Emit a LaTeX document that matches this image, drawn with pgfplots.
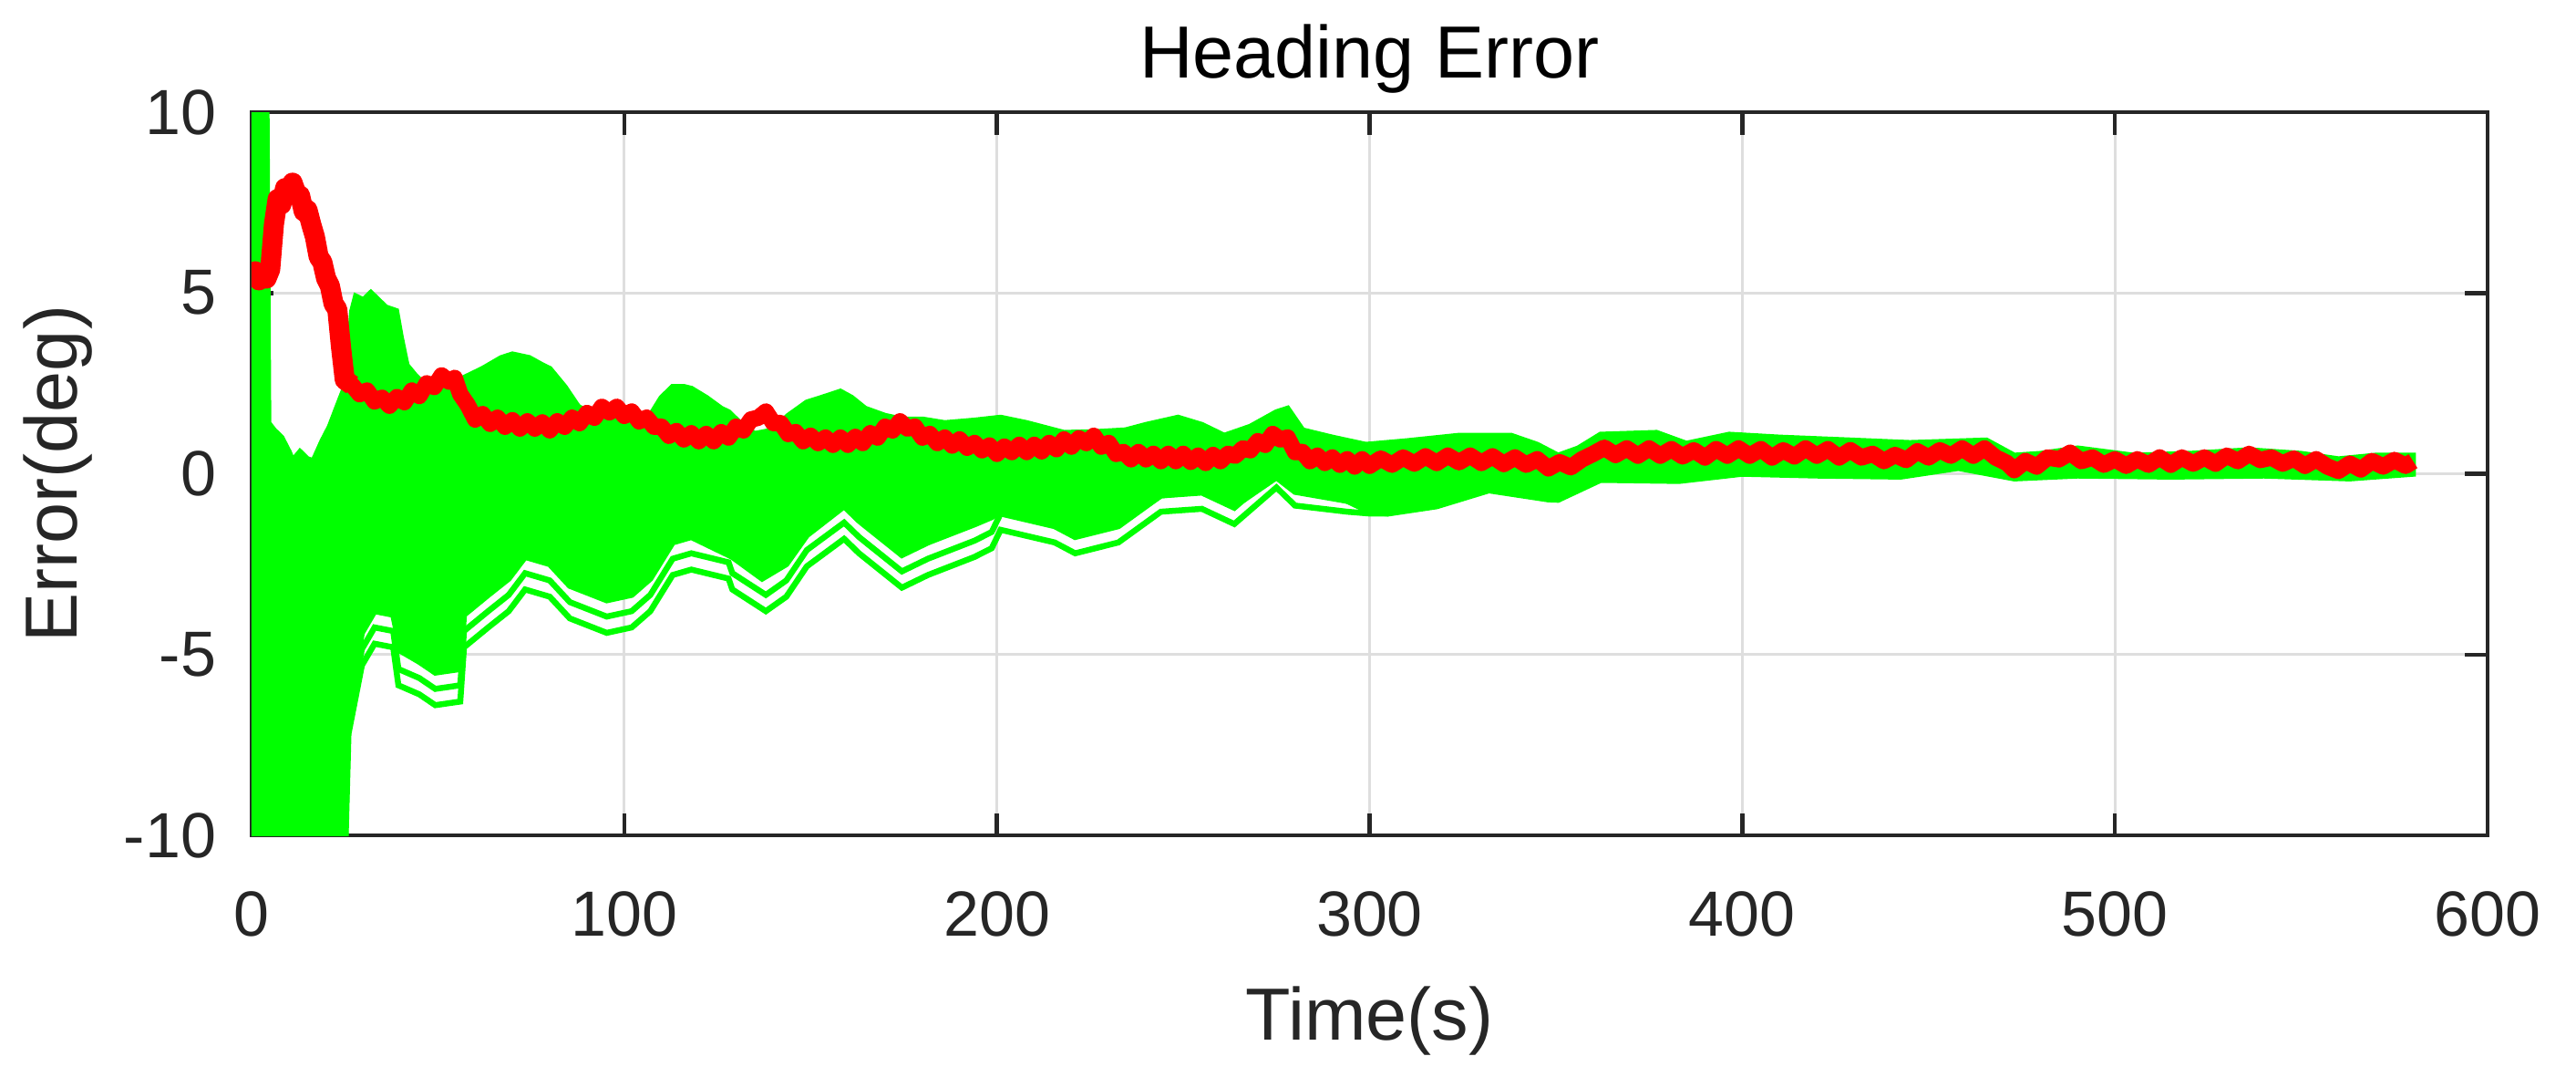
\documentclass[border=0pt]{standalone}
\usepackage{pgfplots}
\pgfplotsset{compat=1.18}
\usepackage{fontspec}
\setmainfont{Liberation Sans}
\definecolor{mgreen}{rgb}{0,1,0}
\definecolor{mred}{rgb}{1,0,0}
\definecolor{axgray}{gray}{0.15}
\definecolor{gridgray}{gray}{0.87}
\begin{document}
\begin{tikzpicture}
\path[use as bounding box] (-55.2pt,-52.8pt) rectangle (510pt,183.2pt);
\begin{axis}[
  at={(0pt,0pt)}, anchor=south west,
  scale only axis, width=490.6pt, height=158.6pt,
  xmin=0, xmax=600, ymin=-10, ymax=10,
  xtick={0,100,200,300,400,500,600},
  xticklabels={0,100,200,300,400,500,600},
  ytick={-10,-5,0,5,10},
  yticklabels={-10,-5,0,5,10},
  xtick pos=both, ytick pos=both,
  xticklabel pos=lower, yticklabel pos=left,
  tick align=inside, major tick length=4.9pt,
  grid=major,
  major grid style={gridgray, line width=0.6pt},
  axis line style={axgray, line width=0.9pt},
  tick style={axgray, line width=0.9pt},
  xticklabel style={font=\fontsize{14}{17}\selectfont, text=axgray, anchor=base, inner sep=0pt, yshift=-22.1pt},
  yticklabel style={font=\fontsize{14}{17}\selectfont, text=axgray, anchor=east, inner sep=0pt, xshift=-7.6pt},
  every axis title shift=0pt,
  title={Heading Error},
  title style={at={(axis description cs:0.5,1.04666)}, anchor=base, inner sep=0pt, font=\fontsize{16.2}{19}\selectfont},
  xlabel={Time(s)},
  xlabel style={at={(axis description cs:0.5,-0.28247)}, anchor=base, inner sep=0pt, font=\fontsize{16.2}{19}\selectfont, text=axgray},
  ylabel={Error(deg)},
  ylabel style={at={(axis description cs:-0.07786,0.5)}, anchor=base, inner sep=0pt, font=\fontsize{16.2}{19}\selectfont, text=axgray},
  clip=true,
]
% dense band of Monte Carlo runs: upper envelope then lower envelope
\addplot[draw=mgreen, fill=mgreen, line width=1.3pt, mark=none] coordinates {
(0,10.5) (3,10.5) (4,10.5) (4.5,1.4) (6,1.2) (8,1.0) (10,0.6) (11,0.35) (13,0.6) (15,0.4) (16.6,0.35)
(19,0.9) (21,1.3) (23.6,2.0) (25.5,2.5) (27,4.5) (28,4.9) (30,4.8) (32,5.0) (34,4.8) (36,4.6)
(38.8,4.5) (40,3.8) (41.6,3.0) (44,2.7) (46,2.5) (48,2.6) (52,2.7) (56,2.6) (58,2.7) (62,2.9)
(67,3.2) (70,3.3) (74.5,3.2) (78,3.0) (80,2.9) (84,2.4) (87.6,1.85) (92,1.6) (96,1.55) (102,1.55)
(107,1.6) (110,2.1) (113,2.4) (116,2.4) (118,2.35) (122,2.1) (126,1.8) (128,1.7) (132,1.3) (135,1.1)
(140,1.2) (144,1.6) (149,1.97) (153,2.1) (158,2.27) (161,2.1) (164.6,1.8) (170,1.6) (174.5,1.5)
(180,1.5) (186,1.4) (194,1.47) (201,1.55) (208,1.4) (218,1.13) (226,1.15) (234.5,1.2) (240,1.35)
(248.6,1.55) (255,1.35) (261,1.05) (268,1.3) (275,1.7) (278,1.8) (282,1.2) (290,1.0) (299,0.8)
(310,0.9) (324,1.05) (338,1.05) (345,0.8) (350.6,0.5) (356,0.7) (362,1.08) (377,1.13) (385,0.83)
(396.5,1.08) (410,1.0) (429,0.92) (445,0.85) (465.5,0.92) (473,0.5) (480,0.55) (490,0.7) (505,0.5)
(520,0.55) (536,0.65) (550,0.55) (560,0.4) (570,0.5) (580,0.5)
(580,0.0) (563,-0.13) (540,-0.05) (515,-0.08) (490,-0.05) (473,-0.13) (458,0.16) (442.5,-0.08)
(420,-0.05) (400,0.0) (383,-0.2) (362,-0.17) (350.6,-0.72) (348,-0.71) (332,-0.46) (318,-0.9)
(305,-1.1) (300,-1.05) (294,-0.75) (280,-0.5) (275,-0.1) (263.7,-0.9) (255,-0.5) (244,-0.6) (232.6,-1.4)
(221,-1.7) (215.5,-1.4) (201,-1.05) (198.6,-1.2) (194,-1.4) (181.5,-1.9) (174.5,-2.25) (163,-1.3)
(159,-0.9) (149,-1.7) (143.5,-2.5) (137,-2.9) (129,-2.3) (118,-1.75) (113,-1.9) (107,-2.9)
(102,-3.35) (95.3,-3.5) (85.4,-3.1) (80,-2.5) (73.4,-2.3) (69,-2.9) (63.5,-3.35) (57,-3.9)
(56,-5.4) (49.3,-5.5) (45,-5.2) (40,-4.9) (38,-3.9) (33,-3.8) (29.6,-4.4) (26,-6.5) (25,-10.5) (0,-10.5)
};
% lowest individual runs
\addplot[draw=mgreen, line width=1.3pt, mark=none] coordinates {
(25,-11) (26,-7.2) (29.6,-5.3) (33,-4.7) (38,-4.8) (39.4,-5.85) (45,-6.1) (49.3,-6.4) (56,-6.3)
(57,-4.8) (63.5,-4.25) (69,-3.8) (73.4,-3.2) (80,-3.4) (85.4,-4.0) (95.3,-4.4) (102,-4.25)
(107,-3.8) (113,-2.8) (118,-2.65) (128,-2.9) (129,-3.2) (138,-3.8) (143.5,-3.4) (149,-2.56)
(159,-1.8) (163,-2.2) (174.5,-3.15) (181.5,-2.8) (194,-2.3) (198.6,-2.06) (201,-1.55) (215.5,-1.9)
(221,-2.2) (232.6,-1.9) (244,-1.05) (255,-0.97) (263.7,-1.39) (275,-0.38) (280,-0.88) (294,-1.05)
(300,-1.1) (305,-1.1)
};
\addplot[draw=mgreen, line width=1.3pt, mark=none] coordinates {
(25,-10.5) (26,-6.75) (29.6,-4.85) (33,-4.25) (38,-4.35) (39.4,-5.4) (45,-5.65) (49.3,-5.95) (56,-5.85)
(57,-4.35) (63.5,-3.8) (69,-3.35) (73.4,-2.75) (80,-2.95) (85.4,-3.55) (95.3,-3.95) (102,-3.8)
(107,-3.35) (113,-2.35) (118,-2.2) (128,-2.45) (129,-2.75) (138,-3.35) (143.5,-2.95) (149,-2.11)
(159,-1.35) (163,-1.75) (174.5,-2.7) (181.5,-2.35) (194,-1.85) (198.6,-1.61) (201,-1.1) (215.5,-1.45)
(221,-1.75) (232.6,-1.45) (244,-0.6) (255,-0.52) (263.7,-0.94) (275,0.07) (280,-0.43) (294,-0.75)
(300,-1.0)
};
% mean heading error, first transient (drawn wider, as in the reference)
\addplot[draw=mred, line width=4.4pt, line join=round, mark=none] coordinates {
(0,5.3) (1,5.6) (2,5.35) (3,5.55) (4,5.4) (5,5.65) (6,6.9) (7,7.6) (8,7.45) (9,7.9) (10,7.75)
(11,8.05) (12,7.75) (13,7.7) (14,7.25) (15,7.3) (16,6.9) (17,6.55) (18,6.0) (19,5.85) (20,5.4)
(21,5.2) (22,4.7) (23,4.55) (24,3.5) (25,2.6) (27,2.45)
};
% mean heading error
\addplot[draw=mred, line width=3.6pt, line join=round, mark=none] coordinates {
(25,2.6)
(27,2.45) (29,2.2) (31,2.3) (33,2.0) (35,2.1) (37,1.88) (39,2.12) (41,1.98) (43,2.3) (45,2.15)
(47,2.5) (49,2.4) (51,2.72) (53,2.55) (54.5,2.65) (56,2.2) (58,1.9) (60,1.5) (62,1.65) (64,1.38)
(66,1.55) (68,1.3) (70,1.48) (72,1.25) (74,1.45) (76,1.25) (78,1.42) (80,1.2) (82,1.45) (84,1.3)
(86,1.55) (88,1.4) (90,1.68) (92,1.55) (94,1.85) (96,1.7) (98,1.85) (100,1.6) (102,1.72) (104,1.45)
(106,1.55) (108,1.3) (110,1.3) (112,1.05) (114,1.18) (116,0.95) (118,1.12) (120,0.9) (122,1.1)
(124,0.9) (126,1.15) (128,1.0) (130,1.3) (132,1.2) (134,1.5) (136,1.55) (138,1.72) (140,1.4)
(142,1.4) (144,1.1) (146,1.15) (148,0.9) (150,1.05) (152,0.85) (154,1.0) (156,0.8) (158,1.0)
(160,0.8) (162,1.02) (164,0.85) (166,1.12) (168,1.0) (170,1.3) (172,1.2) (174,1.45) (176,1.25)
(178,1.3) (180,1.0) (182,1.1) (184,0.85) (186,1.0) (188,0.78) (190,0.95) (192,0.72) (194,0.85)
(196,0.65) (198,0.78) (200,0.55) (202,0.75) (204,0.6) (206,0.8) (208,0.6) (210,0.8) (212,0.62)
(214,0.85) (216,0.68) (218,0.95) (220,0.75) (222,0.98) (224,0.85) (226,1.05) (228,0.75) (230,0.85)
(232,0.55) (234,0.6) (236,0.4) (238,0.6) (240,0.4) (242,0.55) (244,0.35) (246,0.55) (248,0.35)
(250,0.55) (252,0.33) (254,0.5) (256,0.3) (258,0.52) (260,0.35) (262,0.55) (264,0.5) (266,0.7)
(268,0.65) (270,0.9) (272,0.8) (274,1.1) (276,0.95) (278,1.0) (280,0.6) (282,0.6) (284,0.35)
(286,0.5) (288,0.3) (290,0.45) (292,0.25) (294,0.4) (296,0.2) (298,0.4) (300,0.22)
(303,0.42) (306,0.25) (309,0.45) (312,0.28) (315,0.48) (318,0.3) (321,0.5) (324,0.32) (327,0.5)
(330,0.3) (333,0.48) (336,0.27) (339,0.45) (342,0.25) (345,0.4) (348,0.15) (351,0.32) (354,0.18)
(357,0.4) (360,0.55) (363,0.72) (366,0.52) (369,0.7) (372,0.5) (375,0.7) (378,0.5) (381,0.68)
(384,0.48) (387,0.65) (390,0.45) (393,0.68) (396,0.5) (399,0.7) (402,0.5) (405,0.68) (408,0.45)
(411,0.65) (414,0.48) (417,0.7) (420,0.5) (423,0.68) (426,0.45) (429,0.65) (432,0.45) (435,0.55)
(438,0.35) (441,0.52) (444,0.38) (447,0.62) (450,0.45) (453,0.65) (456,0.5) (459,0.7) (462,0.5)
(465,0.7) (468,0.45) (471,0.3) (473,0.1) (476,0.35) (479,0.2) (482,0.45) (485,0.4) (488,0.58)
(491,0.35) (494,0.45) (497,0.25) (500,0.4) (503,0.22) (506,0.4) (509,0.25) (512,0.45) (515,0.25)
(518,0.45) (521,0.28) (524,0.45) (527,0.28) (530,0.5) (533,0.35) (536,0.55) (539,0.38) (542,0.45)
(545,0.28) (548,0.42) (551,0.22) (554,0.4) (557,0.2) (560,0.08) (563,0.28) (566,0.12) (569,0.35)
(572,0.2) (575,0.38) (578,0.22) (580,0.35)
};
\end{axis}
\end{tikzpicture}
\end{document}
